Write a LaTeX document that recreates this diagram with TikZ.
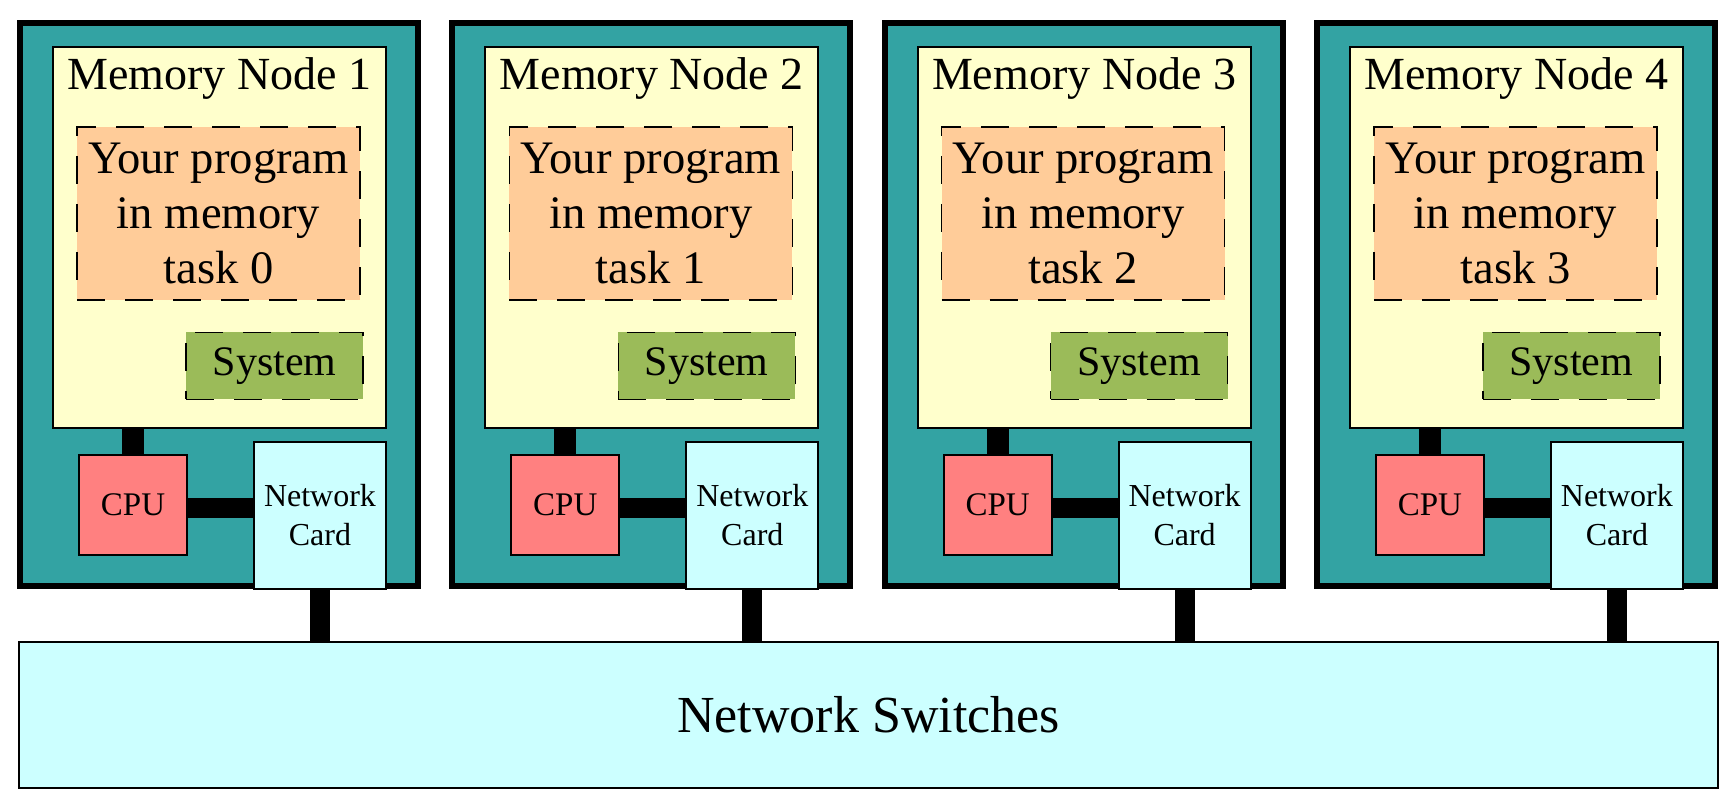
\documentclass[tikz,border=0pt]{standalone}
\usepackage{fontspec}
\setmainfont{Liberation Serif}
\definecolor{boardteal}{RGB}{51,163,163}
\definecolor{memyellow}{RGB}{255,255,204}
\definecolor{progpeach}{RGB}{255,204,153}
\definecolor{sysgreen}{RGB}{155,187,89}
\definecolor{cpured}{RGB}{255,128,128}
\definecolor{netcyan}{RGB}{204,255,255}
\tikzset{
  board/.style={draw, line width=3pt, fill=boardteal, minimum width=199pt, minimum height=281.5pt},
  memory/.style={draw, line width=0.9pt, fill=memyellow, minimum width=166.5pt, minimum height=190.5pt},
  memtitle/.style={anchor=base, inner sep=0pt, font=\fontsize{23}{27.5}\selectfont},
  program/.style={draw, dash pattern=on 14pt off 10pt, line width=0.8pt, fill=progpeach, inner sep=0pt,
    minimum width=141.5pt, minimum height=86.5pt, align=center, font=\fontsize{23.3}{27.5}\selectfont},
  system/.style={draw, dash pattern=on 14pt off 10pt, line width=0.8pt, fill=sysgreen, inner sep=0pt,
    minimum width=88.5pt, minimum height=33.5pt, font=\fontsize{21}{25}\selectfont},
  cpu/.style={draw, line width=0.9pt, fill=cpured, inner sep=0pt, minimum width=54pt, minimum height=50pt,
    font=\fontsize{16.5}{19.5}\selectfont},
  netcard/.style={draw, line width=0.9pt, fill=netcyan, inner sep=0pt, minimum width=66pt, minimum height=73.5pt,
    align=center, font=\fontsize{16}{19.5}\selectfont},
  switches/.style={draw, line width=0.9pt, fill=netcyan, inner sep=0pt, minimum width=849.5pt, minimum height=73pt,
    font=\fontsize{26}{31}\selectfont},
  link/.style={line width=10pt}
}
\begin{document}
\begin{tikzpicture}[x=0.5pt,y=-0.5pt]
  \useasboundingbox (0,0) rectangle (1736,807);
  \node[switches] (sw) at (868.5,715) {Network Switches};
  \foreach \i [evaluate=\i as \dx using (\i-1)*432.3, evaluate=\i as \t using int(\i-1)] in {1,...,4} {
    \node[board] (b\i) at (219+\dx,304.5) {};
    \node[memory] (m\i) at (219.5+\dx,237.5) {};
    \node[memtitle] (t\i) at (219.5+\dx,90) {Memory Node \i};
    \node[program] (p\i) at (218.5+\dx,213.5) {Your program\\in memory\\task \t};
    \node[system] (s\i) at (274.5+\dx,366) {System};
    \node[cpu] (c\i) at (133+\dx,505) {CPU};
    \node[netcard] (n\i) at (320+\dx,515.5) {Network\\Card};
    \draw[link, line width=11pt] (c\i.north) -- (c\i.north |- m\i.south);
    \draw[link] (c\i.east |- 0,508) -- (n\i.west |- 0,508);
    \draw[link] (n\i.south) -- (n\i.south |- sw.north);
  }
\end{tikzpicture}
\end{document}
